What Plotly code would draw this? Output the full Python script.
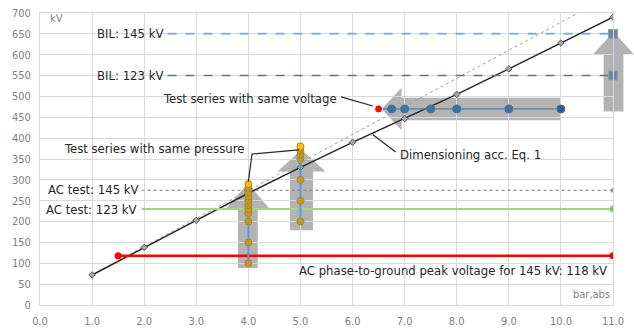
import plotly.graph_objects as go

# ---------------- data ----------------
x_dim = [1, 2, 3, 4, 5, 6, 7, 8, 9, 10, 11]
v_dim = [72, 138, 203, 268, 330, 390, 447, 505, 566, 628, 690]

x_ref = [1, 2, 11]
v_ref = [72, 140, 745]

x_ac = [1.95, 11.0]
v_ac145 = [275, 275]
v_ac123 = [230, 230]

x_pg = [1.5, 11.0]
v_pg = [118, 118]

x_bil = [2.45, 11.0]
v_bil145 = [650, 650]
v_bil123 = [550, 550]

x_bil_pts = [11.0, 11.0]
v_bil_pts = [550, 650]

x_sv = [6.5, 6.75, 7.0, 7.5, 8.0, 9.0, 10.0]
v_sv = [470, 470, 470, 470, 470, 470, 470]

x_p4 = [4, 4, 4, 4, 4, 4, 4, 4, 4, 4, 4]
v_p4 = [100, 150, 200, 220, 230, 240, 250, 260, 270, 280, 290]

x_p5 = [5, 5, 5, 5, 5, 5, 5]
v_p5 = [200, 250, 300, 350, 360, 370, 380]

x_ticks = [0, 1, 2, 3, 4, 5, 6, 7, 8, 9, 10, 11]
x_ticklabels = ["0.0", "1.0", "2.0", "3.0", "4.0", "5.0", "6.0", "7.0", "8.0", "9.0", "10.0", "11.0"]
y_ticks = [0, 50, 100, 150, 200, 250, 300, 350, 400, 450, 500, 550, 600, 650, 700]

XR = [0, 11]
YR = [0, 700]

FONT = "Liberation Sans Narrow, DejaVu Sans Condensed, Arial Narrow, sans-serif"
TXT = "#262626"

fig = go.Figure()

# reference dotted line
fig.add_trace(go.Scatter(x=x_ref, y=v_ref, mode="lines",
                         line=dict(color="#A0A0A0", width=1, dash="dot"), hoverinfo="skip"))
# dimensioning line
fig.add_trace(go.Scatter(x=x_dim, y=v_dim, mode="lines+markers",
                         line=dict(color="#262626", width=1.5),
                         marker=dict(symbol="diamond", size=5, color="#A6A6A6",
                                     line=dict(color="#595959", width=1))))
# AC test lines
fig.add_trace(go.Scatter(x=x_ac, y=v_ac145, mode="lines+markers",
                         line=dict(color="#7F7F7F", width=1, dash="dot"),
                         marker=dict(size=[0, 6], color="#7F7F7F")))
fig.add_trace(go.Scatter(x=x_ac, y=v_ac123, mode="lines+markers",
                         line=dict(color="#A9D18E", width=2),
                         marker=dict(size=[0, 7], color="#70AD47")))
# phase-to-ground
fig.add_trace(go.Scatter(x=x_pg, y=v_pg, mode="lines+markers",
                         line=dict(color="#FF0000", width=2.5),
                         marker=dict(size=7, color="#FF0000")))
# BIL lines
fig.add_trace(go.Scatter(x=x_bil, y=v_bil145, mode="lines",
                         line=dict(color="#8FAADC", width=2, dash="dash")))
fig.add_trace(go.Scatter(x=x_bil, y=v_bil123, mode="lines",
                         line=dict(color="#5F7391", width=1.5, dash="dash")))
fig.add_trace(go.Scatter(x=x_bil_pts, y=v_bil_pts, mode="lines+markers",
                         line=dict(color="#8FAADC", width=1.5),
                         marker=dict(symbol="square", size=9, color="#6C83AA",
                                     line=dict(color="#8FA88A", width=1)),
                         cliponaxis=False))
# test series same voltage
fig.add_trace(go.Scatter(x=x_sv, y=v_sv, mode="lines+markers",
                         line=dict(color="#5A7FA8", width=1.2),
                         marker=dict(size=8,
                                     color=["#FF0000"] + ["#41719C"] * 5 + ["#2E5E94"],
                                     line=dict(color=["#FFFFFF"] + ["#41719C"] * 6, width=1))))
# test series same pressure
for xs, vs in ((x_p4, v_p4), (x_p5, v_p5)):
    cols = ["#BF9A2A"] * (len(vs) - 1) + ["#FFC000"]
    fig.add_trace(go.Scatter(x=xs, y=vs, mode="lines+markers",
                             line=dict(color="#5B9BD5", width=2),
                             marker=dict(size=7, color=cols,
                                         line=dict(color="#A88A1E", width=1))))

# ---------------- decorative arrows (domain coordinates) ----------------
def dx(x):
    return (x - XR[0]) / (XR[1] - XR[0])


def dy(y):
    return (y - YR[0]) / (YR[1] - YR[0])


def path(pts):
    return "M " + " L ".join(f"{dx(a):.5f},{dy(b):.5f}" for a, b in pts) + " Z"


def up_arrow(xc, ybot, ybase, ytip, sw, hw):
    return path([(xc - sw, ybot), (xc + sw, ybot), (xc + sw, ybase), (xc + hw, ybase),
                 (xc, ytip), (xc - hw, ybase), (xc - sw, ybase)])


def left_arrow(yc, xright, xbase, xtip, sh, hh):
    return path([(xright, yc - sh), (xright, yc + sh), (xbase, yc + sh), (xbase, yc + hh),
                 (xtip, yc), (xbase, yc - hh), (xbase, yc - sh)])


arrow_paths = [
    up_arrow(3.99, 89, 232, 292, 0.19, 0.41),
    up_arrow(5.02, 179, 320, 372, 0.22, 0.46),
    left_arrow(470, 9.99, 6.94, 6.56, 27, 51),
    up_arrow(11.01, 464, 601, 655, 0.19, 0.39),
]
shapes = [dict(type="path", path=p, xref="x domain", yref="y domain",
               fillcolor="#A6A6A6", opacity=0.85, line=dict(width=0), layer="below")
          for p in arrow_paths]

# leader lines
leader = dict(color="#262626", width=1.2)
shapes += [
    dict(type="line", x0=5.78, y0=499, x1=6.39, y1=477, xref="x", yref="y", line=leader),
    dict(type="path", path="M 4.0,296 L 4.07,362 L 4.97,372", xref="x", yref="y", line=leader),
    dict(type="line", x0=6.39, y0=408, x1=6.83, y1=367, xref="x", yref="y", line=leader),
]

def ann(text, x, y, xanchor, size=13, color=TXT):
    return dict(text=text, x=x, y=y, xref="x", yref="y", xanchor=xanchor, yanchor="middle",
                showarrow=False, font=dict(family=FONT, size=size, color=color))

annotations = [
    ann("kV", 0.15, 688, "left", 11, "#7F7F7F"),
    ann("bar,abs", 10.98, 24, "right", 11, "#7F7F7F"),
    ann("BIL: 145 kV", 2.4, 650, "right"),
    ann("BIL: 123 kV", 2.4, 550, "right"),
    ann("Test series with same voltage", 5.74, 495, "right"),
    ann("Test series with same pressure", 3.95, 376, "right"),
    ann("Dimensioning acc. Eq. 1", 6.87, 360, "left"),
    ann("AC test: 145 kV", 1.93, 276, "right"),
    ann("AC test: 123 kV", 1.9, 230, "right"),
    ann("AC phase-to-ground peak voltage for 145 kV: 118 kV", 10.93, 82, "right"),
]

fig.update_layout(
    width=634, height=334,
    margin=dict(l=40, r=21, t=13, b=29, autoexpand=False),
    paper_bgcolor="white", plot_bgcolor="white",
    showlegend=False,
    shapes=shapes, annotations=annotations,
    font=dict(family=FONT, size=11, color="#808080"),
)
fig.update_xaxes(range=XR, tickvals=x_ticks, ticktext=x_ticklabels, showgrid=True,
                 gridcolor="#D9D9D9", gridwidth=1, zeroline=False, showline=True,
                 linecolor="#D9D9D9", mirror=True, ticks="", ticklabelstandoff=6,
                 automargin=False,
                 tickfont=dict(family=FONT, size=11, color="#808080"))
fig.update_yaxes(range=YR, tickvals=y_ticks, showgrid=True, gridcolor="#D9D9D9",
                 gridwidth=1, zeroline=False, showline=True, linecolor="#D9D9D9",
                 mirror=True, ticks="", ticklabelstandoff=6, automargin=False,
                 tickfont=dict(family=FONT, size=11, color="#808080"))

# remove the default 8 px page margin so the figure fills the window exactly
fig.write_html("out.html", config={"displayModeBar": False},
               post_script="document.body.style.margin='0';document.body.style.overflow='hidden';")
